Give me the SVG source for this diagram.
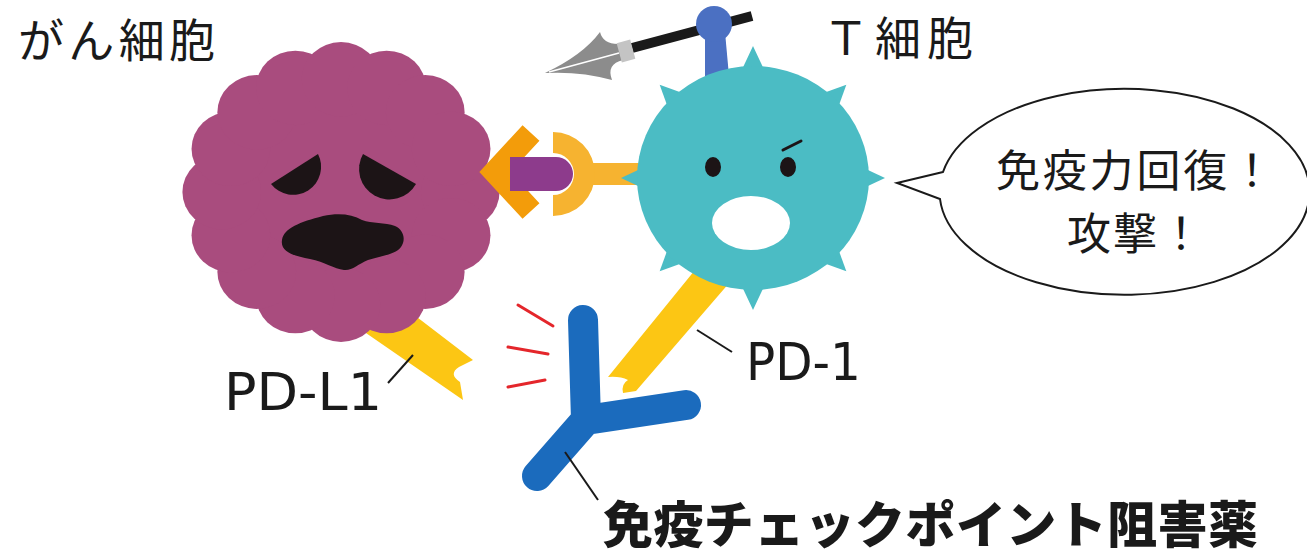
<svg xmlns="http://www.w3.org/2000/svg" width="1307" height="557" viewBox="0 0 1307 557">
  <style>
    .lbl { font-family: "Noto Sans CJK JP", "Noto Sans", sans-serif; fill: #1a1a1a; }
    .latin { font-family: "DejaVu Sans", "Noto Sans CJK JP", sans-serif; fill: #1a1a1a; }
    .lead { stroke: #1a1a1a; stroke-width: 2; fill: none; }
    .tumor { fill: #a94c7e; }
    .tcell { fill: #4bbcc4; }
    .ligand { fill: #fcc614; }
    .spark { stroke: #e4262b; stroke-width: 3; stroke-linecap: round; }
  </style>
  <defs>
    <polygon id="spike" points="-15,-100 0,-132 15,-100"/>
  </defs>
  <rect width="1307" height="557" fill="#ffffff"/>

  <!-- titles -->
  <g id="label-cancer">
    <text class="lbl" x="18" y="57" font-size="46" textLength="197" lengthAdjust="spacing">がん細胞</text>
  </g>
  <g id="label-tcell">
    <text class="lbl" x="823" y="55" font-size="46" textLength="150" lengthAdjust="spacing">Ｔ細胞</text>
  </g>

  <!-- PD-L1 receptor on the cancer cell (drawn beneath the cell) -->
  <g id="pd-l1">
    <path class="ligand" d="M392,298 L473,360 L459,367 Q448,374 460,382 L463,400 L350,322 Z"/>
  </g>

  <!-- cancer cell: scalloped body with worried face -->
  <g id="cancer-cell">
    <g class="tumor" transform="translate(341,192) scale(1.01,0.955)">
      <circle r="125"/>
      <circle cx="118" cy="0" r="39"/>
      <circle cx="109" cy="45.2" r="39"/>
      <circle cx="83.4" cy="83.4" r="39"/>
      <circle cx="45.2" cy="109" r="39"/>
      <circle cx="0" cy="118" r="39"/>
      <circle cx="-45.2" cy="109" r="39"/>
      <circle cx="-83.4" cy="83.4" r="39"/>
      <circle cx="-109" cy="45.2" r="39"/>
      <circle cx="-118" cy="0" r="39"/>
      <circle cx="-109" cy="-45.2" r="39"/>
      <circle cx="-83.4" cy="-83.4" r="39"/>
      <circle cx="-45.2" cy="-109" r="39"/>
      <circle cx="0" cy="-118" r="39"/>
      <circle cx="45.2" cy="-109" r="39"/>
      <circle cx="83.4" cy="-83.4" r="39"/>
      <circle cx="109" cy="-45.2" r="39"/>
    </g>
    <g fill="#1c1416">
      <path d="M271,184 L318,154 A28,28 0 0 1 271,184 Z"/>
      <path d="M363,154 L416,184 A30,30 0 0 1 363,154 Z"/>
      <path d="M282,240 C284,228 300,222 323,216 C338,213 352,214 362,220 C372,224 385,222 395,226 C404,230 406,240 401,247 C395,255 380,256 368,260 C358,264 352,271 344,270 C334,269 325,262 310,259 C294,256 280,252 282,240 Z"/>
    </g>
  </g>

  <!-- PD-L1 / PD-1 binding pair between the two cells -->
  <g id="binding">
    <polyline points="531,133 495,172 531,211" fill="none" stroke="#f39c0a" stroke-width="23" stroke-linejoin="miter"/>
    <path d="M510,157 H556 A17,17 0 0 1 556,191 H510 Z" fill="#8d3b8c"/>
    <rect x="590" y="163" width="55" height="22" fill="#f6b330"/>
    <path d="M553,132 A42,42 0 0 1 553,216 L553,195 A21,21 0 0 0 553,153 Z" fill="#f6b330"/>
  </g>

  <!-- PD-1 receptor on the T cell (drawn beneath the cell) -->
  <g id="pd-1">
    <path class="ligand" d="M695,270 L730,282 L636,391 L623,393 Q621,384 628,380 Q620,376 608,377 Z"/>
  </g>

  <!-- spear held by the T cell -->
  <g id="spear">
    <line x1="632" y1="48" x2="752" y2="16" stroke="#1a1a1a" stroke-width="10"/>
    <path d="M545,73 Q583,55 600,32 Q603,44 618,44 L623,60 Q606,64 612,80 Q580,71 545,73 Z" fill="#8c8c8c"/>
    <line x1="549" y1="72" x2="619" y2="53" stroke="#ffffff" stroke-width="1.5"/>
    <rect x="-7" y="-10" width="14" height="20" fill="#c4c4c4" transform="translate(626,51) rotate(-15)"/>
    <path d="M705,32 L725,32 L729,76 L705,76 Z" fill="#4b70c2"/>
    <circle cx="714" cy="24" r="18" fill="#4b70c2"/>
  </g>

  <!-- T cell: spiky body with determined face -->
  <g id="t-cell">
    <g class="tcell" transform="translate(753,178)">
      <use href="#spike"/>
      <use href="#spike" transform="rotate(45)"/>
      <use href="#spike" transform="rotate(90)"/>
      <use href="#spike" transform="rotate(135)"/>
      <use href="#spike" transform="rotate(180)"/>
      <use href="#spike" transform="rotate(225)"/>
      <use href="#spike" transform="rotate(270)"/>
      <use href="#spike" transform="rotate(315)"/>
      <ellipse rx="116" ry="112"/>
    </g>
    <ellipse cx="713" cy="167" rx="8" ry="10" fill="#1c1416"/>
    <ellipse cx="788" cy="167" rx="8" ry="10" fill="#1c1416"/>
    <line x1="783" y1="150" x2="801" y2="141" stroke="#1c1416" stroke-width="3" stroke-linecap="round"/>
    <ellipse cx="751" cy="223" rx="39" ry="27" fill="#ffffff"/>
  </g>

  <!-- checkpoint inhibitor antibody -->
  <g id="antibody">
    <path d="M583,320 L586,420 L537,476 M586,420 L686,405" fill="none" stroke="#1b6bbd" stroke-width="30" stroke-linecap="round" stroke-linejoin="round"/>
  </g>

  <!-- blocking marks -->
  <g id="sparks">
    <line class="spark" x1="518" y1="305" x2="553" y2="326"/>
    <line class="spark" x1="508" y1="347" x2="548" y2="354"/>
    <line class="spark" x1="508" y1="387" x2="545" y2="380"/>
  </g>

  <!-- speech bubble -->
  <g id="speech">
    <path d="M943,172 L897,183 L940,199 A185,103 0 1 0 943,172 Z" fill="#ffffff" stroke="#1a1a1a" stroke-width="2" stroke-linejoin="miter"/>
    <text class="lbl" x="1135" y="187" font-size="44" text-anchor="middle" textLength="278" lengthAdjust="spacing">免疫力回復！</text>
    <text class="lbl" x="1135" y="250" font-size="44" text-anchor="middle" textLength="136" lengthAdjust="spacing">攻撃！</text>
  </g>

  <!-- leader lines -->
  <g id="connectors">
    <line class="lead" x1="413" y1="355" x2="388" y2="383"/>
    <line class="lead" x1="697" y1="330" x2="732" y2="352"/>
    <line class="lead" x1="565" y1="452" x2="598" y2="500"/>
  </g>

  <!-- part labels -->
  <g id="label-pdl1">
    <text class="latin" x="224" y="410" font-size="51" textLength="158" lengthAdjust="spacingAndGlyphs">PD-L1</text>
  </g>
  <g id="label-pd1">
    <text class="latin" x="746" y="380" font-size="51" textLength="115" lengthAdjust="spacingAndGlyphs">PD-1</text>
  </g>
  <g id="label-drug">
    <text class="lbl" x="603" y="543" font-size="50" font-weight="900" textLength="655" lengthAdjust="spacing">免疫チェックポイント阻害薬</text>
  </g>
</svg>
